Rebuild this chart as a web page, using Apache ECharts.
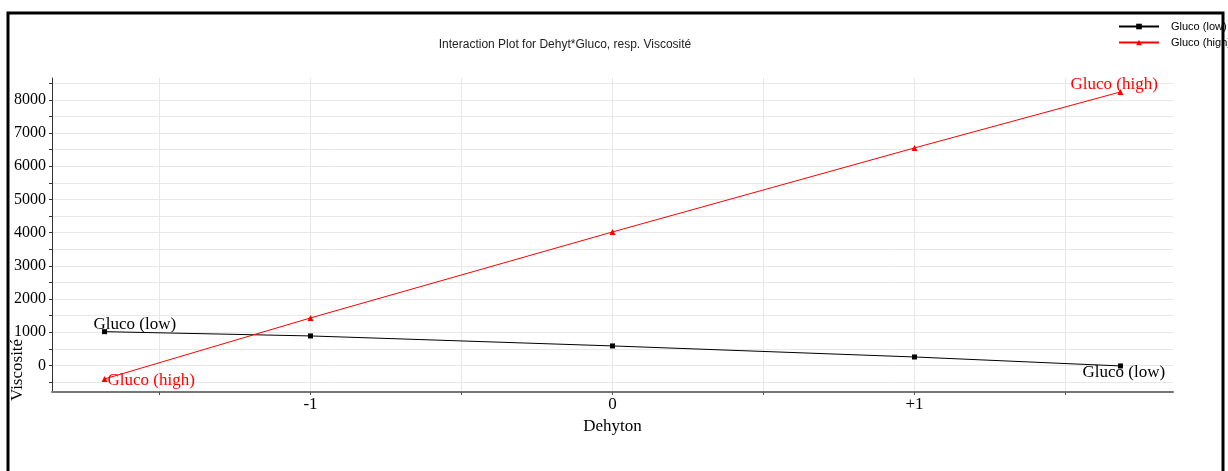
<!DOCTYPE html>
<html>
<head>
<meta charset="utf-8">
<script src="https://cdn.jsdelivr.net/npm/echarts@6/dist/echarts.min.js"></script>
<style>
html,body{margin:0;padding:0;background:#fff;}
#chart{width:1228px;height:471px;}
</style>
</head>
<body>
<div id="chart"></div>
<script>
// ---- data ----
const xLevels = [-1.682, -1, 0, 1, 1.682];
const seriesNames = ['Gluco (low)', 'Gluco (high)'];
const glucoLow = [1018, 889, 588, 255, -15];
const glucoHigh = [-407, 1431, 4022, 6553, 8240];
const xTickValues = [-1.5, -1, -0.5, 0, 0.5, 1, 1.5];
const xLabelValues = [-1, 0, 1];
const xLabelTexts = ['-1', '0', '+1'];
const yTickValues = [-500, 0, 500, 1000, 1500, 2000, 2500, 3000, 3500, 4000, 4500, 5000, 5500, 6000, 6500, 7000, 7500, 8000, 8500];
const yLabelValues = [0, 1000, 2000, 3000, 4000, 5000, 6000, 7000, 8000];
const titleText = 'Interaction Plot for Dehyt*Gluco, resp. Viscosité';
const xName = 'Dehyton';
const yName = 'Viscosité';

const serif = '"Liberation Serif", "DejaVu Serif", serif';
const sans = '"Liberation Sans", Arial, sans-serif';

function buildData(vals, color, firstOffset, lastOffset) {
  return vals.map((v, i) => {
    const item = { value: [xLevels[i], v] };
    if (i === 0 || i === vals.length - 1) {
      item.label = {
        show: true,
        formatter: '{a}',
        position: 'inside',
        align: 'left',
        verticalAlign: 'middle',
        offset: i === 0 ? firstOffset : lastOffset,
        color: color,
        fontFamily: serif,
        fontSize: 17
      };
    }
    return item;
  });
}

const chart = echarts.init(document.getElementById('chart'), null, { renderer: 'canvas' });
chart.setOption({
  animation: false,
  backgroundColor: '#fff',
  grid: { left: 52, right: 55, top: 78, bottom: 79, containLabel: false },
  legend: {
    orient: 'vertical',
    left: 1118,
    top: 21,
    padding: 0,
    itemWidth: 40,
    itemHeight: 7,
    itemGap: 5,
    data: seriesNames,
    textStyle: { fontFamily: sans, fontSize: 11, color: '#000', padding: [0, 0, 0, 7] }
  },
  xAxis: {
    type: 'value',
    min: -1.856,
    max: 1.856,
    name: xName,
    nameLocation: 'middle',
    nameGap: 19,
    nameTextStyle: { fontFamily: serif, fontSize: 17, color: '#000' },
    axisLine: { onZero: false, lineStyle: { color: '#777', width: 2 } },
    axisTick: { show: true, length: 3, customValues: xTickValues, lineStyle: { color: '#555' } },
    axisLabel: {
      customValues: xLabelValues,
      margin: 4,
      fontFamily: serif, fontSize: 17, color: '#000',
      formatter: v => xLabelTexts[xLabelValues.indexOf(Math.round(v))]
    },
    splitLine: { show: true, lineStyle: { color: '#e8e8e8', width: 1 } }
  },
  yAxis: {
    type: 'value',
    min: -800,
    max: 8660,
    axisLine: { show: true, onZero: false, lineStyle: { color: '#333', width: 1 } },
    axisTick: { show: true, length: 3, customValues: yTickValues, lineStyle: { color: '#333' } },
    axisLabel: {
      customValues: yLabelValues,
      margin: 6,
      fontFamily: serif, fontSize: 16, color: '#000',
      formatter: v => String(Math.round(v))
    },
    splitLine: { show: true, lineStyle: { color: '#e8e8e8', width: 1 } }
  },
  series: [
    {
      name: seriesNames[0],
      type: 'line',
      symbol: 'rect',
      symbolSize: 5,
      color: '#000',
      lineStyle: { color: '#000', width: 1 },
      itemStyle: { color: '#000' },
      data: buildData(glucoLow, '#000', [-11, -7], [-38, 7]),
      z: 3
    },
    {
      name: seriesNames[1],
      type: 'line',
      symbol: 'triangle',
      symbolSize: 6,
      color: '#ff0000',
      lineStyle: { color: '#ff0000', width: 1 },
      itemStyle: { color: '#ff0000' },
      data: buildData(glucoHigh, '#ff0000', [3, 2], [-50, -7]),
      z: 4
    }
  ],
  graphic: [
    {
      type: 'text',
      x: 565, y: 45,
      style: { text: titleText, font: '12px ' + sans, fill: '#222', textAlign: 'center', textVerticalAlign: 'middle' }
    },
    {
      type: 'text',
      x: 18, y: 370,
      rotation: Math.PI / 2,
      style: { text: yName, font: '17px ' + serif, fill: '#000', textAlign: 'center', textVerticalAlign: 'middle' }
    },
    {
      type: 'polyline',
      z: 100,
      shape: { points: [[8, 480], [8, 13], [1223, 13], [1223, 480]] },
      style: { stroke: '#000', lineWidth: 3, fill: null }
    }
  ]
});
</script>
</body>
</html>
